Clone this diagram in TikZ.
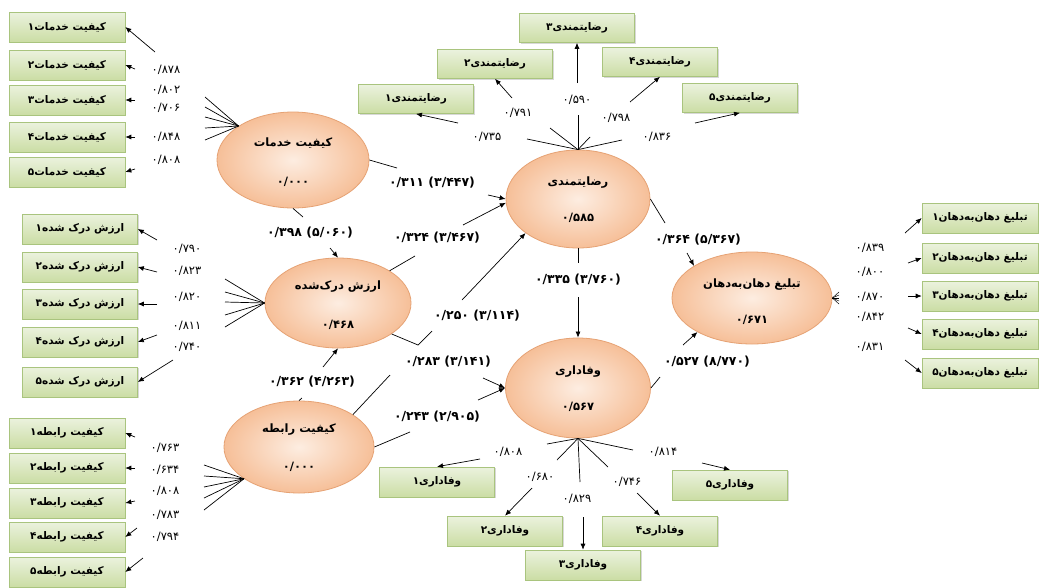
\documentclass[tikz,border=0pt]{standalone}
\usepackage{fontspec}
\usetikzlibrary{shapes.geometric,arrows.meta,shadows}
\TeXXeTstate=1
\newfontfamily\fa[Script=Arabic]{DejaVu Sans}
\newcommand{\farl}[1]{\beginR #1\endR}
\newcommand{\ltrnum}[1]{\beginL #1\endL}
\definecolor{ellb}{HTML}{E6A274}
\definecolor{ellin}{HTML}{FDEDE1}
\definecolor{ellout}{HTML}{F6BF98}
\definecolor{boxb}{HTML}{A9C47E}
\definecolor{boxt}{HTML}{EBF2DE}
\definecolor{boxbot}{HTML}{CBDDA4}
\tikzset{
  ell/.style={ellipse, draw=ellb, line width=0.8pt, inner color=ellin, outer color=ellout, inner sep=0pt},
  etxt/.style={font=\fa\bfseries\fontsize{11.5}{13}\selectfont, inner sep=1pt},
  box/.style={rectangle, draw=boxb, line width=0.6pt, top color=boxt, bottom color=boxbot,
    minimum width=116pt, minimum height=30pt, inner sep=1pt,
    font=\fa\bfseries\fontsize{10.5}{12}\selectfont,
    drop shadow={shadow xshift=1.2pt, shadow yshift=-1.4pt, opacity=0.3}},
  ld/.style={font=\fa\fontsize{11.5}{13}\selectfont, inner sep=1pt},
  pl/.style={font=\fa\bfseries\fontsize{12.5}{14}\selectfont, inner sep=1pt},
  lnk/.style={line width=0.7pt},
  arr/.style={line width=0.7pt, -{Latex[length=6pt,width=5pt]}}
}
\begin{document}
\begin{tikzpicture}[x=1pt,y=-1pt]
\fill[white] (0,0) rectangle (1039,587);
\useasboundingbox (0,0) rectangle (1039,587);

% ---------- latent variables ----------
\node[ell, minimum width=152pt, minimum height=96pt] (kh) at (293,160) {};
\node[etxt] (khn) at (293,143) {\farl{کیفیت خدمات}};
\node[etxt] (khv) at (293,182) {\ltrnum{۰/۰۰۰}};

\node[ell, minimum width=146pt, minimum height=90pt] (az) at (338,303) {};
\node[etxt] (azn) at (338,287) {\farl{ارزش درک‌شده}};
\node[etxt] (azv) at (338,325) {\ltrnum{۰/۴۶۸}};

\node[ell, minimum width=150pt, minimum height=92pt] (rb) at (299,447) {};
\node[etxt] (rbn) at (299,430) {\farl{کیفیت رابطه}};
\node[etxt] (rbv) at (299,467) {\ltrnum{۰/۰۰۰}};

\node[ell, minimum width=144pt, minimum height=98pt] (rz) at (578,199) {};
\node[etxt] (rzn) at (578,183) {\farl{رضایتمندی}};
\node[etxt] (rzv) at (578,218) {\ltrnum{۰/۵۸۵}};

\node[ell, minimum width=145pt, minimum height=100pt] (vf) at (578,388) {};
\node[etxt] (vfn) at (578,372) {\farl{وفاداری}};
\node[etxt] (vfv) at (578,407) {\ltrnum{۰/۵۶۷}};

\node[ell, minimum width=160pt, minimum height=92pt] (tb) at (752,298) {};
\node[etxt] (tbn) at (752,285) {\farl{تبلیغ دهان‌به‌دهان}};
\node[etxt] (tbv) at (752,320) {\ltrnum{۰/۶۷۱}};

% ---------- indicator boxes ----------
\foreach \i/\d/\y in {1/۱/27,2/۲/65,3/۳/100,4/۴/137,5/۵/172}
  \node[box] (kh\i) at (67,\y) {\farl{کیفیت خدمات\d}};
\foreach \i/\d/\y in {1/۱/229,2/۲/267,3/۳/304,4/۴/342,5/۵/382}
  \node[box, minimum width=115pt] (az\i) at (80,\y) {\farl{ارزش درک شده\d}};
\foreach \i/\d/\y in {1/۱/433,2/۲/468,3/۳/503,4/۴/537,5/۵/572}
  \node[box] (rb\i) at (67,\y) {\farl{کیفیت رابطه\d}};
\foreach \i/\d/\x/\y in {1/۱/416/99,2/۲/495/64,3/۳/577/28,4/۴/660/62,5/۵/740/98}
  \node[box, minimum width=115pt, minimum height=29pt] (rz\i) at (\x,\y) {\farl{رضایتمندی\d}};
\foreach \i/\d/\x/\y in {1/۱/437/482,2/۲/505/531,3/۳/583/565,4/۴/660/531,5/۵/730/485}
  \node[box, minimum width=115pt] (vf\i) at (\x,\y) {\farl{وفاداری\d}};
\foreach \i/\d/\y in {1/۱/218,2/۲/258,3/۳/296,4/۴/334,5/۵/373}
  \node[box] (tb\i) at (980,\y) {\farl{تبلیغ دهان‌به‌دهان\d}};

% ---------- loadings: fan lines and arrows ----------
% Service quality
\foreach \i/\y in {1/97,2/107,3/117,4/128,5/140} {
  \coordinate (khf\i) at (205,\y);
  \draw[lnk] (kh.148) -- (khf\i);
}
\foreach \i/\x/\y in {1/155/52,2/135/69,3/135/100,4/135/137,5/135/169} {
  \coordinate (khs\i) at (\x,\y);
  \draw[arr] (khs\i) -- (kh\i.east);
}
\node[ld] (khl1) at (166,70) {\ltrnum{۰/۸۷۸}};
\node[ld] (khl2) at (166,90) {\ltrnum{۰/۸۰۲}};
\node[ld] (khl3) at (166,108) {\ltrnum{۰/۷۰۶}};
\node[ld] (khl4) at (166,137) {\ltrnum{۰/۸۴۸}};
\node[ld] (khl5) at (166,160) {\ltrnum{۰/۸۰۸}};

% Perceived value
\foreach \i/\y in {1/279,2/292,3/302,4/315,5/327} {
  \coordinate (azf\i) at (225,\y);
  \draw[lnk] (az.west) -- (azf\i);
}
\foreach \i/\x/\y in {1/157/240,2/157/272,3/157/304,4/157/335,5/173/360} {
  \coordinate (azs\i) at (\x,\y);
  \draw[arr] (azs\i) -- (az\i.east);
}
\node[ld] (azl1) at (187,249) {\ltrnum{۰/۷۹۰}};
\node[ld] (azl2) at (187,271) {\ltrnum{۰/۸۲۳}};
\node[ld] (azl3) at (187,297) {\ltrnum{۰/۸۲۰}};
\node[ld] (azl4) at (187,326) {\ltrnum{۰/۸۱۱}};
\node[ld] (azl5) at (187,347) {\ltrnum{۰/۷۴۰}};

% Relationship quality
\foreach \i/\y in {1/465,2/476,3/487,4/498,5/510} {
  \coordinate (rbf\i) at (204,\y);
  \draw[lnk] (rb.210) -- (rbf\i);
}
\foreach \i/\x/\y in {1/135/437,2/135/468,3/135/501,4/137/528,5/143/558} {
  \coordinate (rbs\i) at (\x,\y);
  \draw[arr] (rbs\i) -- (rb\i.east);
}
\node[ld] (rbl1) at (165,448) {\ltrnum{۰/۷۶۳}};
\node[ld] (rbl2) at (165,470) {\ltrnum{۰/۶۳۴}};
\node[ld] (rbl3) at (165,491) {\ltrnum{۰/۸۰۸}};
\node[ld] (rbl4) at (165,515) {\ltrnum{۰/۷۸۳}};
\node[ld] (rbl5) at (165,537) {\ltrnum{۰/۷۹۴}};

% Satisfaction
\foreach \i/\x/\y in {1/527/139,2/550/128,3/578/115,4/590/137,5/622/140} {
  \coordinate (rzf\i) at (\x,\y);
  \draw[lnk] (rz.north) -- (rzf\i);
}
\foreach \i/\x/\y in {1/458/123,2/512/98,3/577/83,4/630/102,5/695/123} {
  \coordinate (rzs\i) at (\x,\y);
  \draw[arr] (rzs\i) -- (rz\i.south);
}
\node[ld] (rzl1) at (487,137) {\ltrnum{۰/۷۳۵}};
\node[ld] (rzl2) at (518,113) {\ltrnum{۰/۷۹۱}};
\node[ld] (rzl3) at (577,100) {\ltrnum{۰/۵۹۰}};
\node[ld] (rzl4) at (616,118) {\ltrnum{۰/۷۹۸}};
\node[ld] (rzl5) at (657,137) {\ltrnum{۰/۸۳۶}};

% Loyalty
\foreach \i/\x/\y in {1/547/444,2/557/460,3/580/482,4/608/467,5/633/450} {
  \coordinate (vff\i) at (\x,\y);
  \draw[lnk] (vf.south) -- (vff\i);
}
\foreach \i/\x/\y in {1/480/459,2/532/488,3/583/517,4/637/493,5/702/463} {
  \coordinate (vfs\i) at (\x,\y);
  \draw[arr] (vfs\i) -- (vf\i.north);
}
\node[ld] (vfl1) at (508,452) {\ltrnum{۰/۸۰۸}};
\node[ld] (vfl2) at (540,477) {\ltrnum{۰/۶۸۰}};
\node[ld] (vfl3) at (577,499) {\ltrnum{۰/۸۲۹}};
\node[ld] (vfl4) at (627,482) {\ltrnum{۰/۷۴۶}};
\node[ld] (vfl5) at (663,452) {\ltrnum{۰/۸۱۴}};

% Word of mouth
\foreach \i/\y in {1/292,2/295,3/298,4/301,5/304} {
  \coordinate (tbf\i) at (839,\y);
  \draw[line width=0.5pt] (tb.east) -- (tbf\i);
}
\foreach \i/\x/\y in {1/905/233,2/908/263,3/908/296,4/908/328,5/905/360} {
  \coordinate (tbs\i) at (\x,\y);
  \draw[arr] (tbs\i) -- (tb\i.west);
}
\node[ld] (tbl1) at (870,248) {\ltrnum{۰/۸۳۹}};
\node[ld] (tbl2) at (870,272) {\ltrnum{۰/۸۰۰}};
\node[ld] (tbl3) at (870,297) {\ltrnum{۰/۸۷۰}};
\node[ld] (tbl4) at (870,317) {\ltrnum{۰/۸۴۲}};
\node[ld] (tbl5) at (870,347) {\ltrnum{۰/۸۳۱}};

% ---------- structural paths ----------
% kh -> rz
\coordinate (p1a) at (397,168); \coordinate (p1b) at (488,195);
\draw[lnk] (kh.east) -- (p1a);
\draw[arr] (p1b) -- (rz.west);
\node[pl] (p1l) at (432,183) {\ltrnum{۰/۳۱۱ (۳/۴۴۷)}};
% kh -> az
\coordinate (p2a) at (303,217); \coordinate (p2b) at (330,248);
\draw[lnk] (kh.south) -- (p2a);
\draw[arr] (p2b) -- (az.north);
\node[pl] (p2l) at (310,233) {\ltrnum{۰/۳۹۸ (۵/۰۶۰)}};
% az -> rz
\coordinate (p3a) at (415,256); \coordinate (p3b) at (463,225);
\draw[lnk] (az.32) -- (p3a);
\draw[arr] (p3b) -- (rz.183);
\node[pl] (p3l) at (437,238) {\ltrnum{۰/۳۲۴ (۳/۴۶۷)}};
% rb -> rz
\coordinate (p4a) at (390,375); \coordinate (p4c) at (418,345);
\coordinate (p4d) at (432,331); \coordinate (p4b) at (462,300);
\draw[lnk] (rb.31) -- (p4a) (p4c) -- (p4d);
\draw[arr] (p4b) -- (rz.213);
\node[pl] (p4l) at (477,316) {\ltrnum{۰/۲۵۰ (۳/۱۱۴)}};
% az -> vf
\coordinate (p5a) at (418,345); \coordinate (p5b) at (483,378);
\draw[lnk] (az.-30) -- (p5a);
\draw[arr] (p5b) -- (vf.west);
\node[pl] (p5l) at (448,362) {\ltrnum{۰/۲۸۳ (۳/۱۴۱)}};
% rb -> az
\coordinate (p6a) at (302,398); \coordinate (p6b) at (323,367);
\draw[lnk] (rb.north) -- (p6a);
\draw[arr] (p6b) -- (az.south);
\node[pl] (p6l) at (312,382) {\ltrnum{۰/۳۶۲ (۴/۲۶۳)}};
% rb -> vf
\coordinate (p7a) at (410,432); \coordinate (p7b) at (478,400);
\draw[lnk] (rb.east) -- (p7a);
\draw[arr] (p7b) -- (vf.west);
\node[pl] (p7l) at (437,417) {\ltrnum{۰/۲۴۳ (۲/۹۰۵)}};
% rz -> vf
\coordinate (p8a) at (578,263); \coordinate (p8b) at (578,297);
\draw[lnk] (rz.south) -- (p8a);
\draw[arr] (p8b) -- (vf.north);
\node[pl] (p8l) at (578,280) {\ltrnum{۰/۳۳۵ (۳/۷۶۰)}};
% rz -> tb
\coordinate (p9a) at (665,223); \coordinate (p9b) at (687,253);
\draw[lnk] (rz.east) -- (p9a);
\draw[arr] (p9b) -- (tb.151);
\node[pl] (p9l) at (698,240) {\ltrnum{۰/۳۶۴ (۵/۳۶۷)}};
% vf -> tb
\coordinate (p10a) at (660,377); \coordinate (p10b) at (683,345);
\draw[lnk] (vf.east) -- (p10a);
\draw[arr] (p10b) -- (tb.212);
\node[pl] (p10l) at (707,362) {\ltrnum{۰/۵۲۷ (۸/۷۷۰)}};
\end{tikzpicture}
\end{document}
